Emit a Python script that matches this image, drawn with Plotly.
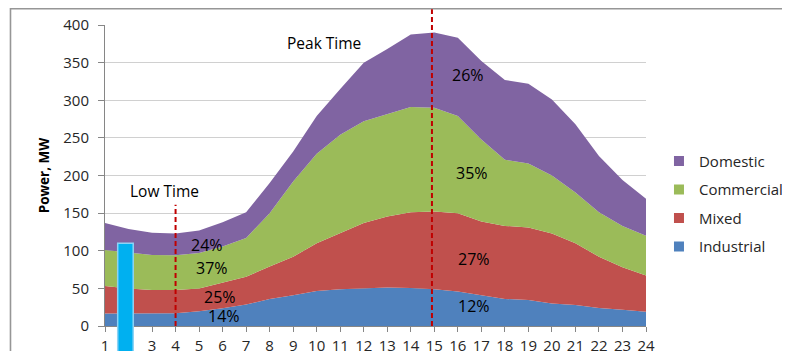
import plotly.graph_objects as go

hours = list(range(1, 25))
hour_labels = [str(h) for h in hours]

industrial = [16.5, 16.5, 16, 17, 19.5, 23.5, 28.5, 36, 41, 46.5, 49, 50, 51, 50.5, 49, 46, 40.5, 36, 34.5, 30, 28, 24, 21.5, 19]
mixed = [36.5, 33.5, 32, 31, 30.5, 34, 37, 43, 51, 63.5, 74, 87, 94.5, 100.5, 103, 104, 98.5, 97, 96.5, 93, 82, 68, 56.5, 48]
commercial = [48, 48, 46.5, 46, 47, 48, 51.5, 71, 100, 119, 131, 135, 136.5, 140, 138, 129, 109, 88, 85, 77, 67.5, 59, 55, 53]
domestic = [36, 31, 29.5, 29, 30, 32.5, 34, 40, 40, 50, 61, 78, 86, 96.5, 100, 104, 104, 106, 106, 101, 90.5, 75, 61, 49]

series_names = ["Industrial", "Mixed", "Commercial", "Domestic"]
series_values = [industrial, mixed, commercial, domestic]
series_colors = ["#4F81BD", "#C0504D", "#9BBB59", "#8064A2"]

# annotations (text, x, y)
pct_labels = [
    ("24%", 5.33, 108), ("37%", 5.55, 77), ("25%", 5.9, 39), ("14%", 6.04, 13.5),
    ("26%", 16.45, 334), ("35%", 16.6, 203), ("27%", 16.7, 89), ("12%", 16.68, 26.5),
]
time_labels = [("Low Time", 3.51, 180), ("Peak Time", 10.29, 376)]

low_x, low_top = 4, 161
peak_x = 14.9
marker_bar_x, marker_bar_w, marker_bar_top = 1.87, 0.66, 110

XMIN, XMAX = 1, 24
YMIN, YMAX = 0, 400

FONT = "Open Sans"

fig = go.Figure()
for name, vals, col in zip(series_names, series_values, series_colors):
    fig.add_trace(go.Scatter(
        x=hours, y=vals, name=name, stackgroup="one", mode="lines",
        line=dict(width=0, color=col), fillcolor=col, showlegend=False,
    ))

# legend entries (square markers), top to bottom
for name, col in reversed(list(zip(series_names, series_colors))):
    fig.add_trace(go.Scatter(
        x=[None], y=[None], mode="markers", name=name, legendgroup=name,
        marker=dict(symbol="square", size=10, color=col),
    ))

def px_x(v):
    return (v - XMIN) / (XMAX - XMIN)

def px_y(v):
    return (v - YMIN) / (YMAX - YMIN)

shapes = [
    # outer chart frame
    dict(type="rect", xref="paper", yref="paper", x0=-0.1747, x1=1.4, y0=-0.3, y1=1.054,
         line=dict(color="#969696", width=1.6), fillcolor="rgba(0,0,0,0)", layer="above"),
    # low-time dashed line
    dict(type="line", xref="x", yref="y", x0=low_x, x1=low_x, y0=0, y1=low_top,
         line=dict(color="#C00000", width=2, dash="5px,3px"), layer="above"),
    # peak-time dashed line (extends above plot)
    dict(type="line", xref="paper", yref="paper", x0=px_x(peak_x), x1=px_x(peak_x), y0=0, y1=1.052,
         line=dict(color="#C00000", width=2, dash="5px,3px"), layer="above"),
    # stray cyan bar
    dict(type="rect", xref="paper", yref="paper",
         x0=px_x(marker_bar_x - marker_bar_w / 2), x1=px_x(marker_bar_x + marker_bar_w / 2),
         y0=-0.3, y1=px_y(marker_bar_top),
         line=dict(color="#8DD3F5", width=1.5), fillcolor="#00B0F0", layer="above"),
]

annotations = []
for t, x, y in pct_labels:
    annotations.append(dict(text=t, x=x, y=y, xref="x", yref="y", showarrow=False,
                            font=dict(family=FONT, size=16, color="#000000")))
for t, x, y in time_labels:
    annotations.append(dict(text=t, x=x, y=y, xref="x", yref="y", showarrow=False,
                            font=dict(family=FONT, size=15.5, color="#000000")))

fig.update_layout(
    width=782, height=343,
    margin=dict(l=97, r=144, t=17, b=25, autoexpand=False),
    paper_bgcolor="white", plot_bgcolor="white",
    font=dict(family=FONT, color="#262626"),
    shapes=shapes, annotations=annotations,
    showlegend=True,
    legend=dict(x=1.024, y=0.406, xanchor="left", yanchor="middle",
                traceorder="grouped", tracegroupgap=6, itemwidth=30,
                font=dict(family=FONT, size=15, color="#262626"),
                bgcolor="rgba(0,0,0,0)"),
    hovermode=False,
)
fig.update_xaxes(
    range=[XMIN, XMAX], tickmode="array", tickvals=hours, ticktext=hour_labels,
    showgrid=False, showline=True, linecolor="#868686", linewidth=1,
    ticks="outside", ticklen=5, tickcolor="#868686",
    tickfont=dict(family=FONT, size=15, color="#262626"), ticklabelstandoff=1,
    zeroline=False,
)
fig.update_yaxes(
    range=[YMIN, YMAX], dtick=50, showgrid=True, gridcolor="#D0D0D0", gridwidth=1,
    showline=True, linecolor="#868686", linewidth=1,
    ticks="outside", ticklen=6, tickcolor="#868686",
    tickfont=dict(family=FONT, size=15, color="#262626"), ticklabelstandoff=6,
    zeroline=False,
    title=dict(text="<b>Power, MW</b>", font=dict(family=FONT, size=13.5, color="#000000"), standoff=10),
)

fig.write_html("out.html")
